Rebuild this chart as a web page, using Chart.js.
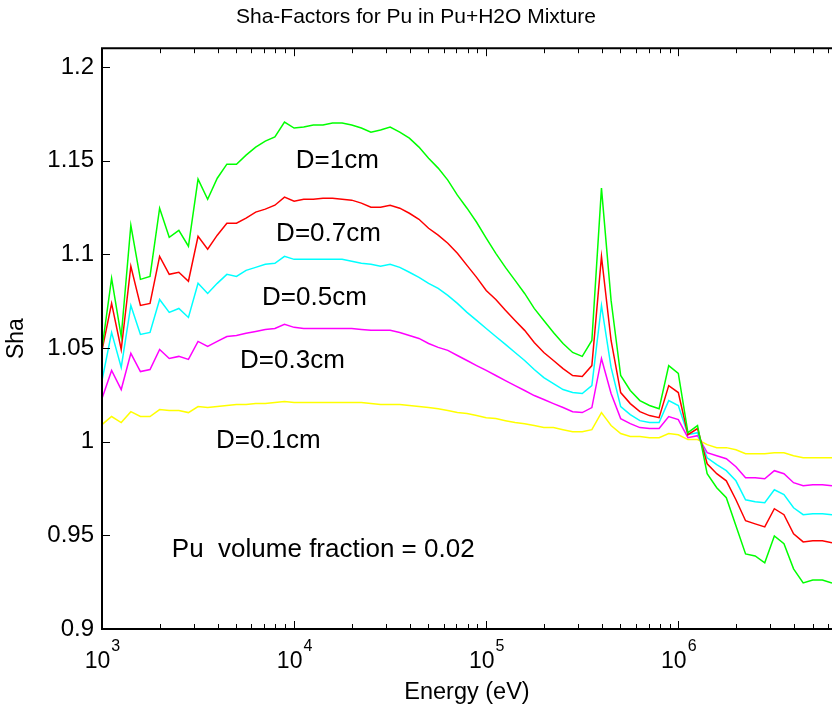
<!DOCTYPE html>
<html>
<head>
<meta charset="utf-8">
<script src="https://cdn.jsdelivr.net/npm/chart.js@4.4.1/dist/chart.umd.min.js"></script>
<style>
  body { margin: 0; background: #fff; }
</style>
</head>
<body>
<canvas id="graficoSha" width="832" height="710"></canvas>
<script>
// energias (eV), 20 pontos por década
const energias = [
  1.000e3, 1.122e3, 1.259e3, 1.413e3, 1.585e3, 1.778e3, 1.995e3, 2.239e3, 2.512e3, 2.818e3,
  3.162e3, 3.548e3, 3.981e3, 4.467e3, 5.012e3, 5.623e3, 6.310e3, 7.079e3, 7.943e3, 8.913e3,
  1.000e4, 1.122e4, 1.259e4, 1.413e4, 1.585e4, 1.778e4, 1.995e4, 2.239e4, 2.512e4, 2.818e4,
  3.162e4, 3.548e4, 3.981e4, 4.467e4, 5.012e4, 5.623e4, 6.310e4, 7.079e4, 7.943e4, 8.913e4,
  1.000e5, 1.122e5, 1.259e5, 1.413e5, 1.585e5, 1.778e5, 1.995e5, 2.239e5, 2.512e5, 2.818e5,
  3.162e5, 3.548e5, 3.981e5, 4.467e5, 5.012e5, 5.623e5, 6.310e5, 7.079e5, 7.943e5, 8.913e5,
  1.000e6, 1.122e6, 1.259e6, 1.413e6, 1.585e6, 1.778e6, 1.995e6, 2.239e6, 2.512e6, 2.818e6,
  3.162e6, 3.548e6, 3.981e6, 4.467e6, 5.012e6, 5.623e6, 6.310e6
];

// fatores Sha para cada diâmetro D
const sha1cm = [
  1.0497, 1.0872, 1.0561, 1.1155, 1.0866, 1.0882, 1.1246, 1.1091, 1.1128, 1.1043,
  1.1401, 1.1294, 1.1406, 1.1481, 1.1481, 1.1529, 1.1572, 1.1604, 1.1626, 1.1706,
  1.1674, 1.1679, 1.1690, 1.1690, 1.1701, 1.1701, 1.1690, 1.1674, 1.1652, 1.1663,
  1.1679, 1.1652, 1.1620, 1.1572, 1.1513, 1.1460, 1.1396, 1.1316, 1.1246, 1.1171,
  1.1086, 1.1005, 1.0930, 1.0861, 1.0791, 1.0711, 1.0647, 1.0583, 1.0524, 1.0476,
  1.0455, 1.0540, 1.1353, 1.0754, 1.0353, 1.0273, 1.0219, 1.0193, 1.0176, 1.0406,
  1.0364, 1.0048, 1.0086, 0.9829, 0.9754, 0.9701, 0.9551, 0.9401, 0.9390, 0.9353,
  0.9497, 0.9455, 0.9321, 0.9246, 0.9262, 0.9262, 0.9246
];
const sha07cm = [
  1.0487, 1.0738, 1.0492, 1.0936, 1.0727, 1.0738, 1.0989, 1.0893, 1.0904, 1.0856,
  1.1096, 1.1027, 1.1102, 1.1166, 1.1166, 1.1193, 1.1225, 1.1241, 1.1262, 1.1305,
  1.1283, 1.1294, 1.1294, 1.1299, 1.1299, 1.1294, 1.1289, 1.1273, 1.1251, 1.1251,
  1.1262, 1.1246, 1.1219, 1.1187, 1.1139, 1.1102, 1.1059, 1.1005, 1.0941, 1.0877,
  1.0807, 1.0759, 1.0701, 1.0647, 1.0594, 1.0529, 1.0476, 1.0433, 1.0390, 1.0353,
  1.0348, 1.0406, 1.0989, 1.0540, 1.0262, 1.0203, 1.0160, 1.0139, 1.0128, 1.0299,
  1.0262, 1.0037, 1.0070, 0.9882, 0.9829, 0.9791, 0.9690, 0.9578, 0.9561, 0.9545,
  0.9642, 0.9610, 0.9508, 0.9465, 0.9471, 0.9471, 0.9460
];
const sha05cm = [
  1.0326, 1.0583, 1.0396, 1.0727, 1.0572, 1.0583, 1.0759, 1.0690, 1.0711, 1.0663,
  1.0845, 1.0791, 1.0845, 1.0893, 1.0882, 1.0914, 1.0930, 1.0947, 1.0952, 1.0989,
  1.0973, 1.0973, 1.0973, 1.0973, 1.0973, 1.0973, 1.0963, 1.0952, 1.0947, 1.0936,
  1.0947, 1.0930, 1.0904, 1.0877, 1.0845, 1.0818, 1.0781, 1.0738, 1.0690, 1.0647,
  1.0604, 1.0561, 1.0519, 1.0476, 1.0433, 1.0385, 1.0342, 1.0310, 1.0278, 1.0262,
  1.0257, 1.0299, 1.0727, 1.0396, 1.0187, 1.0144, 1.0112, 1.0102, 1.0102, 1.0219,
  1.0193, 1.0037, 1.0048, 0.9914, 0.9877, 0.9845, 0.9791, 0.9690, 0.9679, 0.9674,
  0.9743, 0.9717, 0.9647, 0.9610, 0.9615, 0.9615, 0.9610
];
const sha03cm = [
  1.0230, 1.0380, 1.0278, 1.0471, 1.0374, 1.0385, 1.0492, 1.0444, 1.0455, 1.0439,
  1.0535, 1.0508, 1.0535, 1.0561, 1.0567, 1.0578, 1.0588, 1.0599, 1.0604, 1.0626,
  1.0610, 1.0604, 1.0604, 1.0604, 1.0604, 1.0604, 1.0604, 1.0599, 1.0594, 1.0594,
  1.0594, 1.0583, 1.0567, 1.0551, 1.0524, 1.0503, 1.0487, 1.0460, 1.0433, 1.0406,
  1.0380, 1.0353, 1.0326, 1.0299, 1.0273, 1.0246, 1.0225, 1.0203, 1.0182, 1.0160,
  1.0155, 1.0182, 1.0444, 1.0257, 1.0123, 1.0096, 1.0075, 1.0070, 1.0070, 1.0134,
  1.0118, 1.0021, 1.0032, 0.9941, 0.9925, 0.9909, 0.9866, 0.9807, 0.9807, 0.9802,
  0.9845, 0.9829, 0.9781, 0.9765, 0.9770, 0.9770, 0.9765
];
const sha01cm = [
  1.0091, 1.0134, 1.0102, 1.0160, 1.0134, 1.0134, 1.0171, 1.0166, 1.0166, 1.0155,
  1.0187, 1.0182, 1.0187, 1.0193, 1.0198, 1.0198, 1.0203, 1.0203, 1.0209, 1.0214,
  1.0209, 1.0209, 1.0209, 1.0209, 1.0209, 1.0209, 1.0209, 1.0209, 1.0203, 1.0198,
  1.0198, 1.0198, 1.0193, 1.0187, 1.0182, 1.0176, 1.0166, 1.0155, 1.0150, 1.0139,
  1.0128, 1.0123, 1.0112, 1.0102, 1.0096, 1.0086, 1.0075, 1.0075, 1.0064, 1.0053,
  1.0053, 1.0064, 1.0155, 1.0086, 1.0043, 1.0027, 1.0027, 1.0021, 1.0021, 1.0043,
  1.0037, 1.0011, 1.0011, 0.9984, 0.9968, 0.9968, 0.9957, 0.9936, 0.9936, 0.9936,
  0.9941, 0.9941, 0.9925, 0.9914, 0.9914, 0.9914, 0.9914
];

const marcasY = [0.9, 0.95, 1, 1.05, 1.1, 1.15, 1.2];
const decadas = [1e3, 1e4, 1e5, 1e6];
const expoentes = ['3', '4', '5', '6'];

// textos dentro do gráfico (posição em eV / Sha, alinhados à esquerda)
const anotacoes = [
  { texto: 'D=1cm', x: 1.02e4, y: 1.150 },
  { texto: 'D=0.7cm', x: 8.06e3, y: 1.111 },
  { texto: 'D=0.5cm', x: 6.81e3, y: 1.077 },
  { texto: 'D=0.3cm', x: 5.23e3, y: 1.043 },
  { texto: 'D=0.1cm', x: 3.92e3, y: 1.0005 },
  { texto: 'Pu  volume fraction = 0.02', x: 2.31e3, y: 0.942 }
];

const FONTE = '"Liberation Sans", Arial, sans-serif';

function pontos(serie) {
  return energias.map((e, i) => ({ x: e, y: serie[i] }));
}

function linha(label, serie, cor) {
  return {
    label: label,
    data: pontos(serie),
    borderColor: cor,
    borderWidth: 1.5,
    pointRadius: 0,
    fill: false,
    tension: 0
  };
}

// moldura com marcas internas, rótulos 10^n e textos
const molduraSha = {
  id: 'molduraSha',
  afterDraw(chart) {
    const ctx = chart.ctx;
    const area = chart.chartArea;
    const sx = chart.scales.x;
    const sy = chart.scales.y;
    ctx.save();
    ctx.strokeStyle = '#000';
    ctx.fillStyle = '#000';
    ctx.lineWidth = 2;
    ctx.beginPath();
    ctx.moveTo(area.right, area.top);
    ctx.lineTo(area.left, area.top);
    ctx.lineTo(area.left, area.bottom);
    ctx.lineTo(area.right, area.bottom);
    ctx.stroke();

    ctx.lineWidth = 1;
    ctx.beginPath();
    decadas.forEach(d => {
      for (let m = 1; m <= 9; m++) {
        const v = d * m;
        if (v > sx.max) break;
        const px = Math.round(sx.getPixelForValue(v)) + 0.5;
        const len = m === 1 ? 8 : 5;
        ctx.moveTo(px, area.bottom);
        ctx.lineTo(px, area.bottom - len);
        ctx.moveTo(px, area.top);
        ctx.lineTo(px, area.top + len);
      }
    });
    marcasY.forEach(v => {
      const py = Math.round(sy.getPixelForValue(v)) + 0.5;
      ctx.moveTo(area.left, py);
      ctx.lineTo(area.left + 8, py);
    });
    ctx.stroke();

    // rótulos do eixo x com expoente
    ctx.textBaseline = 'alphabetic';
    ctx.textAlign = 'left';
    decadas.forEach((d, i) => {
      const px = sx.getPixelForValue(d);
      ctx.font = '23px ' + FONTE;
      const wb = ctx.measureText('10').width;
      ctx.font = '16px ' + FONTE;
      const we = ctx.measureText(expoentes[i]).width;
      const x0 = px - (wb + we) / 2;
      ctx.font = '23px ' + FONTE;
      ctx.fillText('10', x0, 668);
      ctx.font = '16px ' + FONTE;
      ctx.fillText(expoentes[i], x0 + wb + 1, 651);
    });

    ctx.font = '26px ' + FONTE;
    ctx.textBaseline = 'middle';
    anotacoes.forEach(a => {
      ctx.fillText(a.texto, sx.getPixelForValue(a.x), sy.getPixelForValue(a.y));
    });
    ctx.restore();
  }
};

const ctxSha = document.getElementById('graficoSha');

new Chart(ctxSha, {
  type: 'line',
  data: {
    datasets: [
      linha('D=1cm', sha1cm, '#00ff00'),
      linha('D=0.7cm', sha07cm, '#ff0000'),
      linha('D=0.5cm', sha05cm, '#00ffff'),
      linha('D=0.3cm', sha03cm, '#ff00ff'),
      linha('D=0.1cm', sha01cm, '#ffff00')
    ]
  },
  options: {
    responsive: false,
    animation: false,
    devicePixelRatio: 1,
    layout: { padding: 0 },
    plugins: {
      legend: { display: false },
      tooltip: { enabled: false },
      title: {
        display: true,
        text: 'Sha-Factors for Pu in Pu+H2O Mixture',
        color: '#000',
        font: { family: FONTE, size: 21, weight: 'normal' },
        padding: { top: 5, bottom: 18 }
      }
    },
    scales: {
      x: {
        type: 'logarithmic',
        min: energias[0],
        max: energias[energias.length - 1],
        grid: { display: false, drawTicks: false },
        border: { display: false },
        ticks: { display: false },
        title: {
          display: true,
          text: 'Energy (eV)',
          color: '#000',
          font: { family: FONTE, size: 23.5 },
          padding: { top: 0, bottom: 3 }
        },
        afterFit(scale) { scale.height = 81; }
      },
      y: {
        min: 0.9,
        max: 1.21,
        grid: { display: false, drawTicks: false },
        border: { display: false },
        afterBuildTicks(scale) {
          scale.ticks = marcasY.map(v => ({ value: v }));
        },
        ticks: {
          color: '#000',
          padding: 8,
          font: { family: FONTE, size: 24 },
          callback: v => String(parseFloat(v.toFixed(2)))
        },
        title: {
          display: true,
          text: 'Sha',
          color: '#000',
          font: { family: FONTE, size: 23 },
          padding: { top: 3, bottom: 0 }
        },
        afterFit(scale) { scale.width = 102; }
      }
    }
  },
  plugins: [molduraSha]
});
</script>
</body>
</html>
